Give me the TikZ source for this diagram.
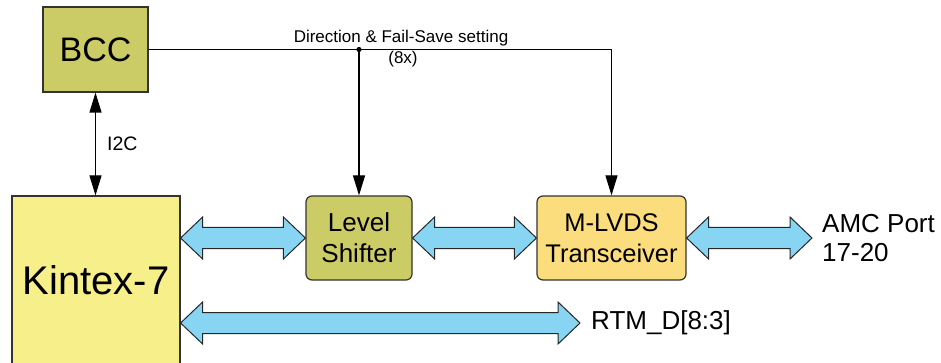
\documentclass[tikz,border=0pt]{standalone}
\usepackage{fontspec}
\setmainfont{Liberation Sans}
\usetikzlibrary{arrows.meta,calc}

\definecolor{olivebox}{HTML}{CCCC66}
\definecolor{fpgabox}{HTML}{F7F08A}
\definecolor{lvdsbox}{HTML}{FCDD7E}
\definecolor{busblue}{HTML}{87D4F3}

\tikzset{
  block/.style={draw=black!80, line width=1.2pt, align=center, inner sep=0pt},
  sig/.style={line width=1.2pt, >={Triangle[length=20pt,width=12pt]}},
  bus/.style={draw=black!85, fill=busblue, line width=1pt, line join=miter,
    to path={let \p1=(\tikztostart), \p2=(\tikztotarget) in
      -- (\x1+22pt,\y1+21pt) -- (\x1+22pt,\y1+10.5pt) -- (\x2-22pt,\y1+10.5pt)
      -- (\x2-22pt,\y1+21pt) -- (\x2,\y1) -- (\x2-22pt,\y1-21pt)
      -- (\x2-22pt,\y1-10.5pt) -- (\x1+22pt,\y1-10.5pt) -- (\x1+22pt,\y1-21pt) -- cycle}},
  lbl/.style={inner sep=0pt, align=left}
}

\begin{document}
\begin{tikzpicture}[x=1pt,y=-1pt]
        \useasboundingbox (0,0) rectangle (941,363);
        \node[block, fill=olivebox, minimum width=105, minimum height=85,
              font=\fontsize{34}{40}\selectfont] (bcc) at (95.5,49.5) {BCC};
        \node[block, fill=fpgabox, minimum width=168, minimum height=168,
              font=\fontsize{40}{46}\selectfont] (kintex) at (96,280) {Kintex-7};
        \node[block, fill=olivebox, rounded corners=6pt, minimum width=106, minimum height=84,
              font=\fontsize{26}{31}\selectfont] (ls) at (359,238) {Level\\Shifter};
        \node[block, fill=lvdsbox, rounded corners=6pt, minimum width=149, minimum height=84,
              font=\fontsize{25.5}{31}\selectfont] (mlvds) at (611.5,238) {M-LVDS\\Transceiver};
        \node[lbl, anchor=west, inner xsep=10pt, font=\fontsize{26}{29}\selectfont]
              (amc) at (812,238.5) {AMC Port\\17-20};
        \node[lbl, anchor=west, inner xsep=11pt, font=\fontsize{26}{30}\selectfont]
              (rtm) at (580,323) {RTM\_D[8:3]};
        \coordinate (tap) at (bcc.east -| ls.north);
        \node[lbl, anchor=base, font=\fontsize{17}{20}\selectfont] (dir) at (401,43) {Direction \& Fail-Save setting};
        \node[lbl, anchor=base, font=\fontsize{17}{20}\selectfont] (eight) at (403,64) {(8x)};
        \node[lbl, anchor=west, font=\fontsize{19.5}{22}\selectfont] (i2c) at (107,144) {I2C};
        \path[draw,sig,<->] (bcc.south) -- (bcc.south |- kintex.north);
        \path[draw,sig,->] (bcc.east) -| (mlvds.north);
        \path[draw,sig,->] (tap) -- (ls.north);
        \fill (tap) circle (2.6pt);
        \path[bus] (kintex.east |- ls.west) to (ls.west);
        \path[bus] (ls.east) to (mlvds.west);
        \path[bus] (mlvds.east) to (amc.west);
        \path[bus] (kintex.east |- rtm.west) to (rtm.west);
    \end{tikzpicture}
\end{document}
